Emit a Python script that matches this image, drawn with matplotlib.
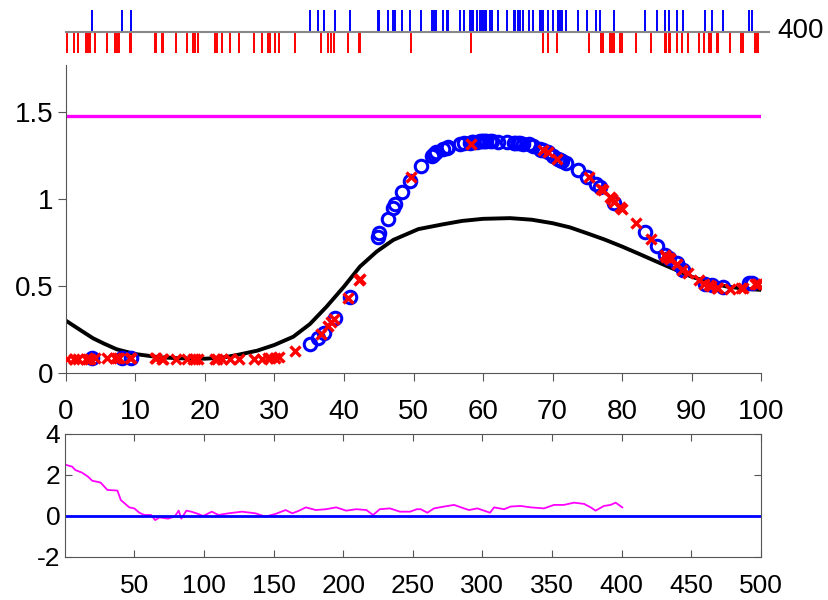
import matplotlib
matplotlib.use("Agg")
import matplotlib.pyplot as plt

plt.rcParams['font.family'] = ['Liberation Sans', 'DejaVu Sans']
plt.rcParams['axes.unicode_minus'] = False

# smooth black curve
curve_x = [0, 2, 3.9, 5.5, 7.3, 9.9, 13.5, 16.5, 20, 22.5, 24.6, 27.5, 30, 32.7, 35.1, 37.5,
           40, 42.3, 44.7, 47.1, 50.7, 54.3, 57, 60, 63.9, 67, 70, 72.5, 74.9, 77.5, 80,
           82.5, 85, 87.5, 90, 92.7, 95.1, 97.5, 100]
curve_y = [0.302, 0.25, 0.201, 0.17, 0.138, 0.111, 0.092, 0.086, 0.084, 0.09, 0.105, 0.13,
           0.163, 0.21, 0.283, 0.383, 0.498, 0.613, 0.699, 0.766, 0.828, 0.856, 0.875, 0.887,
           0.891, 0.882, 0.862, 0.838, 0.805, 0.768, 0.728, 0.685, 0.641, 0.598, 0.555, 0.52,
           0.498, 0.486, 0.479]

# blue circles / blue raster ticks
blue_x = [3.7, 8.1, 9.4, 35.1, 36.3, 37.1, 38.7, 40.8, 44.9, 45.1, 46.3, 47.1, 47.3, 48.3,
          49.5, 51.1, 52.6, 52.9, 53.2, 54.3, 54.8, 55.0, 56.7, 57.2, 58.1, 58.4, 58.6,
          59.1, 59.6, 59.8, 60.0, 60.3, 60.5, 61.0, 61.3, 62.1, 63.4, 64.4, 64.6, 65.1,
          65.3, 65.8, 66.6, 67.2, 68.2, 68.4, 68.7, 69.4, 70.0, 70.8, 71.1, 71.3, 72.0,
          73.7, 75.0, 76.3, 76.8, 78.9, 83.3, 85.0, 86.2, 86.7, 87.9, 88.8, 91.9, 92.9,
          94.6, 98.3, 98.7]
blue_y = [0.09, 0.09, 0.09, 0.17, 0.20, 0.23, 0.32, 0.44, 0.78, 0.805, 0.885, 0.95, 0.97,
          1.04, 1.105, 1.19, 1.245, 1.26, 1.27, 1.29, 1.295, 1.30, 1.315, 1.32, 1.325, 1.33,
          1.33, 1.33, 1.335, 1.335, 1.335, 1.335, 1.335, 1.335, 1.335, 1.33, 1.33, 1.325,
          1.325, 1.32, 1.32, 1.315, 1.315, 1.305, 1.29, 1.285, 1.28, 1.27, 1.25, 1.23,
          1.225, 1.22, 1.21, 1.17, 1.13, 1.085, 1.07, 0.98, 0.81, 0.73, 0.68, 0.66, 0.635,
          0.595, 0.515, 0.505, 0.495, 0.52, 0.52]

# red crosses / red raster ticks
red_x = [0.1, 1.2, 1.8, 2.9, 3.1, 3.5, 4.2, 5.9, 7.1, 7.3, 7.6, 9.2, 9.4, 12.8, 13.0, 13.8,
         14.0, 15.9, 17.4, 18.3, 18.5, 19.0, 21.4, 21.7, 22.4, 23.6, 24.9, 27.1, 28.2,
         29.1, 29.4, 30.1, 30.6, 32.9, 36.7, 37.7, 38.2, 38.5, 40.6, 42.1, 42.3, 49.7,
         58.3, 68.6, 69.3, 70.7, 75.2, 77.0, 77.2, 78.3, 78.5, 78.8, 79.7, 80.0, 82.0,
         84.1, 86.2, 86.4, 86.7, 86.9, 87.9, 88.7, 89.5, 91.1, 91.8, 92.5, 92.8, 93.6,
         93.8, 95.6, 97.1, 97.4, 99.1, 99.4, 99.6]
red_y = [0.08, 0.08, 0.085, 0.085, 0.085, 0.085, 0.09, 0.09, 0.09, 0.09, 0.09, 0.09, 0.09,
         0.09, 0.09, 0.085, 0.085, 0.085, 0.085, 0.08, 0.08, 0.08, 0.08, 0.08, 0.08, 0.08,
         0.08, 0.085, 0.085, 0.09, 0.09, 0.09, 0.095, 0.13, 0.225, 0.27, 0.295, 0.31, 0.43,
         0.535, 0.54, 1.13, 1.315, 1.28, 1.27, 1.23, 1.125, 1.06, 1.055, 1.01, 1.0, 0.985,
         0.955, 0.945, 0.865, 0.77, 0.68, 0.67, 0.66, 0.655, 0.63, 0.595, 0.575, 0.535,
         0.515, 0.505, 0.50, 0.49, 0.49, 0.485, 0.49, 0.49, 0.51, 0.515, 0.515]

level = 1.48

# lower panel trace
trace_x = [1, 5.3, 7.7, 12.6, 16.7, 19.8, 25.8, 30.7, 37.9, 40.3, 46.4, 50, 53.6, 57.2, 62,
           65, 68.1, 74.2, 79, 81.9, 83.8, 87.4, 91, 95.9, 99.5, 105.6, 110.4, 117.6,
           127.3, 137, 144.2, 151.4, 158.7, 163.5, 168.4, 173.2, 180.4, 187.7, 195, 202.2,
           209.4, 216.7, 221.5, 226.3, 233.6, 240.8, 248.1, 252.9, 255.7, 260.5, 265.3,
           272.5, 279.7, 286.8, 290.4, 296.4, 305.5, 308.4, 315.6, 320.3, 327.5, 334.7,
           344.3, 351.4, 358.6, 365.8, 373, 377.8, 381.3, 387.3, 392.1, 395.7, 400.5]
trace_y = [2.49, 2.41, 2.24, 2.11, 1.92, 1.72, 1.63, 1.27, 1.24, 0.78, 0.42, 0.37, 0.16,
           0.05, 0.05, -0.2, -0.07, -0.13, -0.03, 0.26, -0.13, 0.26, 0.21, 0.1, 0.0, 0.21,
           0.05, 0.13, 0.21, 0.13, -0.03, 0.1, 0.29, 0.13, 0.26, 0.42, 0.29, 0.33, 0.42,
           0.26, 0.33, 0.29, 0.05, 0.33, 0.37, 0.21, 0.21, 0.33, 0.33, 0.16, 0.37, 0.46,
           0.54, 0.37, 0.29, 0.37, 0.16, 0.42, 0.33, 0.46, 0.49, 0.42, 0.37, 0.54, 0.54,
           0.65, 0.59, 0.42, 0.26, 0.49, 0.54, 0.65, 0.42]

spine_col = '#555555'
fig = plt.figure(figsize=(8.29, 6.0), dpi=100)

# raster strip on top
ax_r = fig.add_axes([0.0796, 0.9117, 0.8384, 0.0716])
ax_r.vlines(blue_x, 1, 2, color='blue', lw=1.4)
ax_r.vlines(red_x, 0, 1, color='red', lw=1.4)
ax_r.axhline(1, color='#888888', lw=1.5, xmax=1.012, clip_on=False)
ax_r.set_xlim(0, 100)
ax_r.set_ylim(0, 2)
ax_r.axis('off')
ax_r.text(102.3, 1, '400', fontsize=20, va='center', ha='left')

# main panel
ax = fig.add_axes([0.0796, 0.3778, 0.8384, 0.5138])
ax.axhline(level, color='magenta', lw=2.4, xmax=0.998)
ax.plot(curve_x, curve_y, color='black', lw=2.8, zorder=2)
ax.plot(blue_x, blue_y, 'o', mfc='none', mec='blue', ms=9, mew=2.2, zorder=3)
ax.plot(red_x, red_y, 'x', color='red', ms=7.5, mew=2.4, zorder=4)
ax.set_xlim(0, 100)
ax.set_ylim(0, 1.77)
ax.set_xticks(range(0, 101, 10))
ax.set_yticks([0, 0.5, 1, 1.5])
ax.set_yticklabels(['0', '0.5', '1', '1.5'])
for s in ['top', 'right']:
    ax.spines[s].set_visible(False)
for s in ['left', 'bottom']:
    ax.spines[s].set_color(spine_col)
ax.tick_params(direction='out', length=5.5, color=spine_col, labelsize=20)
ax.tick_params(axis='x', pad=13)
ax.tick_params(axis='y', pad=3.5)

# lower panel
ax2 = fig.add_axes([0.078, 0.0717, 0.8398, 0.205])
ax2.plot(trace_x, trace_y, color='magenta', lw=1.3)
ax2.axhline(0, color='blue', lw=2)
ax2.set_xlim(0, 500)
ax2.set_ylim(-2, 4)
ax2.set_xticks(range(50, 501, 50))
ax2.set_yticks([-2, 0, 2, 4])
for s in ax2.spines.values():
    s.set_color(spine_col)
ax2.tick_params(direction='in', length=5, color=spine_col, labelsize=19,
                top=True, right=True)
ax2.tick_params(axis='x', pad=12)
ax2.tick_params(axis='y', pad=3)

fig.savefig('out.png', dpi=100)
